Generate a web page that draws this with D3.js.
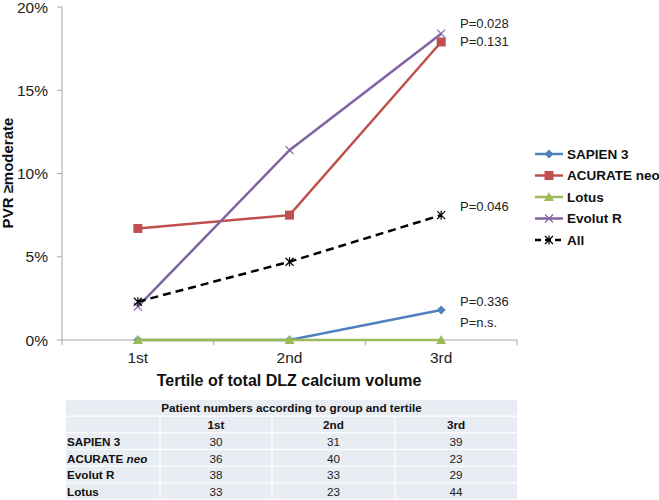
<!DOCTYPE html>
<html>
<head>
<meta charset="utf-8">
<script src="https://cdn.jsdelivr.net/npm/d3@7"></script>
<style>
  body { margin: 0; background: #fff; }
  svg { font-family: Arial, "Liberation Sans", sans-serif; }
</style>
</head>
<body>
<svg id="chart" width="659" height="500"></svg>
<script>
var tertiles = ["1st", "2nd", "3rd"];
var seriesNames = ["SAPIEN 3", "ACURATE neo", "Lotus", "Evolut R", "All"];
var sapien = [0, 0, 1.8];
var acurate = [6.7, 7.5, 17.9];
var lotus = [0, 0, 0];
var evolut = [2.0, 11.4, 18.4];
var all = [2.3, 4.7, 7.5];
var pValues = ["P=0.336", "P=0.131", "P=n.s.", "P=0.028", "P=0.046"];
var yTicks = [0, 5, 10, 15, 20];

var tableTitle = "Patient numbers according to group and tertile";
var tableGroups = ["SAPIEN 3", "ACURATE neo", "Evolut R", "Lotus"];
var tableCounts = [[30, 31, 39], [36, 40, 23], [38, 33, 29], [33, 23, 44]];

var svg = d3.select("#chart");

var x = d3.scaleBand().domain(tertiles).range([62, 517]).padding(0);
var y = d3.scaleLinear().domain([0, 20]).range([340, 7]);

var colors = ["#4F81BD", "#C0504D", "#9BBB59", "#8064A2", "#000"];
var symbols = ["diamond", "square", "triangle", "cross", "star"];
var pOffsets = [-4, 4.5, -13, -6, -4];

var series = [sapien, acurate, lotus, evolut, all].map((v, i) => ({
    name: seriesNames[i], values: v, color: colors[i], symbol: symbols[i], p: pValues[i], pdy: pOffsets[i]
}));

// axes
var axisColor = "#a6a6a6";
svg.append("line").attr("x1", 62).attr("x2", 62).attr("y1", y(20)).attr("y2", y(0))
    .attr("stroke", axisColor);
svg.append("g").selectAll("line").data(yTicks).join("line")
    .attr("x1", 57).attr("x2", 62).attr("y1", d => y(d)).attr("y2", d => y(d))
    .attr("stroke", axisColor);
svg.append("g").selectAll("text").data(yTicks).join("text")
    .attr("x", 48).attr("y", d => y(d)).attr("dy", "0.36em")
    .attr("text-anchor", "end").style("font-size", "15.5px").attr("fill", "#222")
    .text(d => d + "%");

svg.append("line").attr("x1", 62).attr("x2", 517).attr("y1", y(0)).attr("y2", y(0))
    .attr("stroke", axisColor);
var bounds = tertiles.map(t => x(t)).concat([x.range()[1]]);
svg.append("g").selectAll("line").data(bounds).join("line")
    .attr("x1", d => d).attr("x2", d => d).attr("y1", y(0)).attr("y2", y(0) + 5)
    .attr("stroke", axisColor);
svg.append("g").selectAll("text").data(tertiles).join("text")
    .attr("x", d => x(d) + x.bandwidth() / 2).attr("y", 363)
    .attr("text-anchor", "middle").style("font-size", "15.5px").attr("fill", "#222")
    .text(d => d);

svg.append("text").attr("x", 289).attr("y", 386).attr("text-anchor", "middle")
    .style("font-size", "16px").style("font-weight", "bold").attr("fill", "#111")
    .text("Tertile of total DLZ calcium volume");
svg.append("text").attr("transform", "translate(13,173) rotate(-90)").attr("text-anchor", "middle")
    .style("font-size", "15px").style("font-weight", "bold").attr("fill", "#111")
    .text("PVR \u2265moderate");

// lines and markers
var cx = t => x(t) + x.bandwidth() / 2;
var line = d3.line().x((d, i) => cx(tertiles[i])).y(d => y(d));

function drawMarker(g, s, px, py) {
    if (s.symbol === "diamond") {
        g.append("path").attr("d", `M${px},${py - 4.5}L${px + 4.5},${py}L${px},${py + 4.5}L${px - 4.5},${py}Z`)
            .attr("fill", s.color);
    } else if (s.symbol === "square") {
        g.append("rect").attr("x", px - 4.5).attr("y", py - 4.5).attr("width", 9).attr("height", 9)
            .attr("fill", s.color);
    } else if (s.symbol === "triangle") {
        g.append("path").attr("d", `M${px},${py - 5}L${px + 5},${py + 4}L${px - 5},${py + 4}Z`)
            .attr("fill", s.color);
    } else if (s.symbol === "cross") {
        g.append("path").attr("d", `M${px - 4},${py - 4}L${px + 4},${py + 4}M${px - 4},${py + 4}L${px + 4},${py - 4}`)
            .attr("stroke", s.color).attr("stroke-width", 1.2);
    } else {
        g.append("path").attr("d", `M${px - 4},${py - 4}L${px + 4},${py + 4}M${px - 4},${py + 4}L${px + 4},${py - 4}M${px},${py - 4.5}L${px},${py + 4.5}`)
            .attr("stroke", s.color).attr("stroke-width", 1.2);
    }
}

series.forEach(s => {
    var g = svg.append("g");
    g.append("path").datum(s.values).attr("d", line).attr("fill", "none")
        .attr("stroke", s.color).attr("stroke-width", 2.5)
        .attr("stroke-dasharray", s.name === "All" ? "8,5" : null);
    s.values.forEach((v, i) => drawMarker(g, s, cx(tertiles[i]), y(v)));
    svg.append("text").attr("x", 460).attr("y", y(s.values[2]) + s.pdy)
        .style("font-size", "13px").attr("fill", "#222").text(s.p);
});

// legend
var legend = svg.append("g").attr("transform", "translate(535,154)");
series.forEach((s, i) => {
    var g = legend.append("g").attr("transform", `translate(0,${i * 21.5})`);
    g.append("line").attr("x1", 0).attr("x2", 28).attr("y1", 0).attr("y2", 0)
        .attr("stroke", s.color).attr("stroke-width", 2.5)
        .attr("stroke-dasharray", s.name === "All" ? "6,4" : null);
    drawMarker(g, s, 14, 0);
    g.append("text").attr("x", 32).attr("y", 0).attr("dy", "0.36em")
        .style("font-size", "13.5px").style("font-weight", "bold").attr("fill", "#111")
        .text(s.name);
});

// table
var tx0 = 66, tx1 = 517, ty0 = 400, rowH = 16.7;
var colEdges = [66, 160, 272, 395, 517];
var table = svg.append("g");
var nRows = 2 + tableGroups.length;
d3.range(nRows).forEach(r => {
    table.append("rect").attr("x", tx0).attr("y", ty0 + r * rowH).attr("width", tx1 - tx0)
        .attr("height", rowH - 1.2).attr("fill", "#e8ecf3");
});
d3.range(1, nRows).forEach(r => {
    colEdges.slice(1, 4).forEach(cxv => {
        table.append("line").attr("x1", cxv).attr("x2", cxv)
            .attr("y1", ty0 + r * rowH).attr("y2", ty0 + (r + 1) * rowH)
            .attr("stroke", "#fff").attr("stroke-width", 1.2);
    });
});
table.append("text").attr("x", (tx0 + tx1) / 2).attr("y", ty0 + rowH / 2).attr("dy", "0.35em")
    .attr("text-anchor", "middle").style("font-size", "11.7px").style("font-weight", "bold")
    .attr("fill", "#111").text(tableTitle);
tertiles.forEach((t, j) => {
    table.append("text").attr("x", (colEdges[j + 1] + colEdges[j + 2]) / 2)
        .attr("y", ty0 + rowH * 1.5).attr("dy", "0.35em").attr("text-anchor", "middle")
        .style("font-size", "11.7px").style("font-weight", "bold").attr("fill", "#111").text(t);
});
tableGroups.forEach((gname, r) => {
    var ry = ty0 + rowH * (r + 2.5);
    var lbl = table.append("text").attr("x", 67).attr("y", ry).attr("dy", "0.35em")
        .style("font-size", "11.7px").style("font-weight", "bold").attr("fill", "#111");
    if (gname === "ACURATE neo") {
        lbl.append("tspan").text("ACURATE ");
        lbl.append("tspan").style("font-style", "italic").text("neo");
    } else {
        lbl.text(gname);
    }
    tableCounts[r].forEach((c, j) => {
        table.append("text").attr("x", (colEdges[j + 1] + colEdges[j + 2]) / 2)
            .attr("y", ry).attr("dy", "0.35em").attr("text-anchor", "middle")
            .style("font-size", "11.7px").attr("fill", "#222").text(c);
    });
});
</script>
</body>
</html>
